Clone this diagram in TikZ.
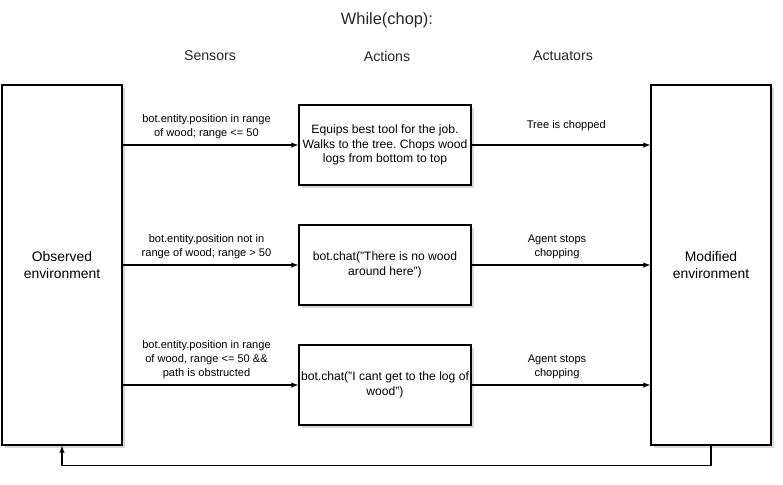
\documentclass[tikz,border=0pt]{standalone}
\usepackage{fontspec}
\setmainfont{Liberation Sans}
\usepackage{xcolor}
\usetikzlibrary{positioning,shadows}
\frenchspacing

\begin{document}
\begin{tikzpicture}[x=0.75pt, y=-0.75pt, >=latex,
    envbox/.style = {draw, line width=1.1pt, fill=white, minimum width=90pt, minimum height=270pt, align=center,
        font=\fontsize{10.4}{12.2}\selectfont,
        drop shadow={shadow xshift=2pt, shadow yshift=-2pt, fill=gray!60, opacity=0.5}},
    actbox/.style = {draw, line width=1.1pt, fill=white, minimum width=129pt, minimum height=60pt, align=center, inner sep=1pt,
        font=\fontsize{9.1}{10.9}\selectfont,
        drop shadow={shadow xshift=2pt, shadow yshift=-2pt, fill=gray!60, opacity=0.5}},
    lbl/.style = {font=\fontsize{8.3}{10.6}\selectfont, align=center, inner sep=1pt},
    hdr/.style = {font=\fontsize{10.6}{12.5}\selectfont, text=black!85}
]
    \useasboundingbox (0,0) rectangle (783,485);

    % title and columns
    \node[hdr, font=\fontsize{12.3}{14}\selectfont] (title) at (387,20) {While(chop):};
    \node[hdr] (sensors) at (210,56) {Sensors};
    \node[hdr] (actions) at (387,56) {Actions};
    \node[hdr] (actuators) at (563,56) {Actuators};

    % environments
    \node[envbox] (obs) at (62,265) {Observed\\environment};
    \node[envbox] (mod) at (711,265) {Modified\\environment};

    % actions
    \node[actbox] (chop) at (385,145) {Equips best tool for the job.\\Walks to the tree. Chops wood\\logs from bottom to top};
    \node[actbox] (far) at (385,265) {bot.chat("There is no wood\\around here")};
    \node[actbox] (blocked) at (385,385) {bot.chat("I cant get to the log of\\wood")};

    % sensors
    \draw[->, thick] (obs.east |- chop) -- (chop.west)
        node[lbl, midway, above=3pt, xshift=-3pt] {bot.entity.position in range\\of wood; range <= 50};
    \draw[->, thick] (obs.east |- far) -- (far.west)
        node[lbl, midway, above=3pt, xshift=-3pt] {bot.entity.position not in\\range of wood; range > 50};
    \draw[->, thick] (obs.east |- blocked) -- (blocked.west)
        node[lbl, midway, above=3pt, xshift=-3pt] {bot.entity.position in range\\of wood, range <= 50 \&\&\\path is obstructed};

    % actuators
    \draw[->, thick] (chop.east) -- (mod.west |- chop)
        node[lbl, midway, above=9pt, xshift=4pt] {Tree is chopped};
    \draw[->, thick] (far.east) -- (mod.west |- far)
        node[lbl, midway, above=3pt, xshift=-3pt] {Agent stops\\chopping};
    \draw[->, thick] (blocked.east) -- (mod.west |- blocked)
        node[lbl, midway, above=3pt, xshift=-3pt] {Agent stops\\chopping};

    % loop back
    \draw[->, thick] (mod.south) -- ++(0,20) -| (obs.south);
\end{tikzpicture}
\end{document}
